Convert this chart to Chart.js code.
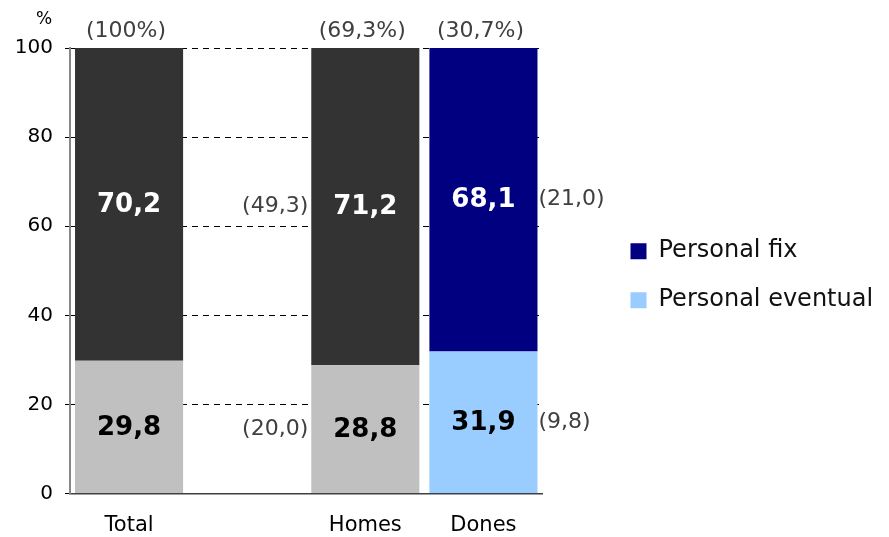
<!DOCTYPE html>
<html><head><meta charset="utf-8">
<script src="https://cdn.jsdelivr.net/npm/chart.js@4/dist/chart.umd.min.js"></script>
<style>html,body{margin:0;padding:0;background:#fff}#wrap{width:889px;height:537px}</style>
</head><body><div id="wrap"><canvas id="c" width="889" height="537"></canvas></div>
<script>
const categories = ['Total', '', 'Homes', 'Dones'];
const eventualValues = [29.8, null, 28.8, 31.9];
const fixValues = [70.2, null, 71.2, 68.1];
const eventualLabels = ['29,8', '', '28,8', '31,9'];
const fixLabels = ['70,2', '', '71,2', '68,1'];
const topLabels = ['(100%)', '', '(69,3%)', '(30,7%)'];
const fixSideLabels = ['', '', '(49,3)', '(21,0)'];
const eventualSideLabels = ['', '', '(20,0)', '(9,8)'];
const sideLabelSides = ['', '', 'left', 'right'];
const yTicks = [0, 20, 40, 60, 80, 100];
const legendNames = ['Personal fix', 'Personal eventual'];
const legendColors = ['#000080', '#99CCFF'];
const eventualColors = ['#C0C0C0', '#C0C0C0', '#C0C0C0', '#99CCFF'];
const fixColors = ['#333333', '#333333', '#333333', '#000080'];
const fixTextColors = ['#FFFFFF', '#FFFFFF', '#FFFFFF', '#FFFFFF'];
const eventualTextColors = ['#000000', '#000000', '#000000', '#000000'];

const FONT = "'DejaVu Sans', Verdana, sans-serif";
Chart.defaults.font.family = FONT;

const legendWidthPlugin = {
  id: 'legendWidth',
  beforeLayout(chart) {
    const lg = chart.legend;
    if (lg && !lg._patchedFit) {
      const orig = lg.fit.bind(lg);
      lg.fit = function () { orig(); this.width = 270; };
      lg._patchedFit = true;
    }
  }
};

const labelPlugin = {
  id: 'labelPlugin',
  afterDatasetsDraw(chart) {
    const ctx = chart.ctx;
    const area = chart.chartArea;
    const metaEv = chart.getDatasetMeta(0);
    const metaFix = chart.getDatasetMeta(1);
    ctx.save();
    ctx.textBaseline = 'middle';
    const drawSet = (meta, labels, colors, sides) => {
      meta.data.forEach((bar, i) => {
        if (!labels[i]) return;
        const cy = (bar.y + bar.base) / 2;
        ctx.font = "bold 26px " + FONT;
        ctx.fillStyle = colors[i];
        ctx.textAlign = 'center';
        ctx.fillText(labels[i], bar.x, cy + 1);
        if (sides[i]) {
          ctx.font = "22px " + FONT;
          ctx.fillStyle = '#404040';
          if (sideLabelSides[i] === 'left') {
            ctx.textAlign = 'right';
            ctx.fillText(sides[i], bar.x - bar.width / 2 - 3, cy);
          } else {
            ctx.textAlign = 'left';
            ctx.fillText(sides[i], bar.x + bar.width / 2 + 1, cy);
          }
        }
      });
    };
    drawSet(metaEv, eventualLabels, eventualTextColors, eventualSideLabels);
    drawSet(metaFix, fixLabels, fixTextColors, fixSideLabels);
    ctx.font = "22px " + FONT;
    ctx.fillStyle = '#404040';
    ctx.textAlign = 'center';
    metaFix.data.forEach((bar, i) => {
      if (!topLabels[i]) return;
      ctx.fillText(topLabels[i], bar.x - 3, bar.y - 17);
    });
    ctx.font = "17px " + FONT;
    ctx.fillStyle = '#000';
    ctx.fillText('%', area.left - 26, area.top - 28);
    ctx.restore();
  }
};

new Chart(document.getElementById('c'), {
  type: 'bar',
  data: {
    labels: categories,
    datasets: [
      { label: 'Personal eventual', data: eventualValues, backgroundColor: eventualColors, stack: 's', yAxisID: 'y' },
      { label: 'Personal fix', data: fixValues, backgroundColor: fixColors, stack: 's', yAxisID: 'y' }
    ]
  },
  options: {
    responsive: false,
    animation: false,
    layout: { padding: { top: 48, left: 0, right: 13.5, bottom: 0 } },
    datasets: { bar: { categoryPercentage: 1, barPercentage: 0.915 } },
    plugins: {
      tooltip: { enabled: false },
      legend: {
        position: 'right',
        fullSize: false,
        title: { display: true, text: ' ', color: '#111', font: { size: 5 }, padding: 2 },
        labels: {
          font: { size: 24, family: FONT },
          color: '#111',
          boxWidth: 16,
          boxHeight: 16,
          padding: 25,
          generateLabels: () => legendNames.map((t, i) => ({
            text: t, fillStyle: legendColors[i], strokeStyle: legendColors[i], fontColor: '#111',
            lineWidth: 0, hidden: false, datasetIndex: 1 - i
          }))
        }
      }
    },
    scales: {
      x: {
        stacked: true,
        grid: { display: false, drawTicks: false },
        border: { color: '#404040', width: 1.5 },
        ticks: { font: { size: 21, family: FONT }, color: '#000', padding: 19 },
        afterFit: s => { s.height = 43.5; }
      },
      y: {
        stacked: true,
        min: 0, max: 100,
        afterBuildTicks: s => { s.ticks = yTicks.map(v => ({ value: v })); },
        afterFit: s => { s.width = 70; },
        grid: {
          color: c => (c.tick && c.tick.value === 0) ? 'rgba(0,0,0,0)' : '#000',
          lineWidth: 1,
          tickColor: '#000',
          tickLength: 5,
          tickBorderDash: []
        },
        border: { color: '#888888', width: 2, dash: [6, 5] },
        ticks: { font: { size: 20, family: FONT }, color: '#000', padding: 12 }
      },
      spacer: {
        type: 'linear',
        position: 'right',
        display: true,
        min: 0, max: 1,
        grid: { display: false, drawOnChartArea: false, drawTicks: false },
        border: { display: false },
        ticks: { display: false },
        afterFit: s => { s.width = 63; }
      }
    }
  },
  plugins: [legendWidthPlugin, labelPlugin]
});
</script>
</body></html>
